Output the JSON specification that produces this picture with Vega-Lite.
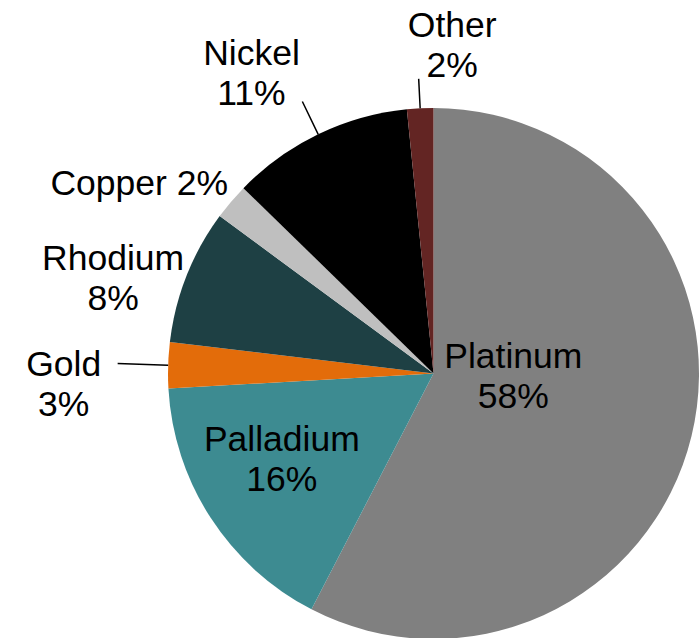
{
  "$schema": "https://vega.github.io/schema/vega-lite/v6.json",
  "width": 531,
  "height": 531,
  "autosize": {"type": "none"},
  "padding": {"left": 168, "top": 108, "right": 1, "bottom": 0},
  "background": "white",
  "config": {"view": {"stroke": null}},
  "data": {
    "values": [
      {"metal": "Platinum", "share": 57.6, "label": "Platinum\n58%", "order": 1},
      {"metal": "Palladium", "share": 16.5, "label": "Palladium\n16%", "order": 2},
      {"metal": "Gold", "share": 2.8, "label": "Gold\n3%", "order": 3},
      {"metal": "Rhodium", "share": 8.2, "label": "Rhodium\n8%", "order": 4},
      {"metal": "Copper", "share": 2.2, "label": "Copper 2%", "order": 5},
      {"metal": "Nickel", "share": 11.1, "label": "Nickel\n11%", "order": 6},
      {"metal": "Other", "share": 1.6, "label": "Other\n2%", "order": 7}
    ]
  },
  "encoding": {
    "theta": {"field": "share", "type": "quantitative", "stack": true},
    "order": {"field": "order", "type": "quantitative"}
  },
  "layer": [
    {
      "mark": {"type": "arc"},
      "encoding": {
        "color": {
          "field": "metal",
          "type": "nominal",
          "scale": {
            "domain": ["Platinum", "Palladium", "Gold", "Rhodium", "Copper", "Nickel", "Other"],
            "range": ["#808080", "#3D8B91", "#E36C0A", "#1E4044", "#BFBFBF", "#000000", "#632523"]
          },
          "legend": null
        }
      }
    },
    {
      "mark": {"type": "arc", "radius": 295, "radius2": 265.5, "padAngle": 3, "filled": false, "strokeWidth": 1.5},
      "encoding": {"stroke": {"condition": {"test": "datum.metal === 'Other'", "value": "#000000"}, "value": "transparent"}}
    },
    {
      "mark": {"type": "arc", "radius": 302, "radius2": 265.5, "padAngle": 3, "filled": false, "strokeWidth": 1.5},
      "encoding": {"stroke": {"condition": {"test": "datum.metal === 'Nickel'", "value": "#000000"}, "value": "transparent"}}
    },
    {
      "mark": {"type": "arc", "radius": 316, "radius2": 265.5, "padAngle": 3, "filled": false, "strokeWidth": 1.5},
      "encoding": {"stroke": {"condition": {"test": "datum.metal === 'Gold'", "value": "#000000"}, "value": "transparent"}}
    },
    {
      "mark": {"type": "text", "radius": 78, "dx": 4, "dy": -24, "font": "Liberation Sans", "fontSize": 35.5, "lineHeight": 40, "lineBreak": "\n", "align": "center", "baseline": "alphabetic", "color": "#000000"},
      "encoding": {"text": {"condition": {"test": "datum.metal === 'Platinum'", "field": "label", "type": "nominal"}, "value": ""}}
    },
    {
      "mark": {"type": "text", "radius": 170, "dx": -9, "dy": -15, "font": "Liberation Sans", "fontSize": 35.5, "lineHeight": 40, "lineBreak": "\n", "align": "center", "baseline": "alphabetic", "color": "#000000"},
      "encoding": {"text": {"condition": {"test": "datum.metal === 'Palladium'", "field": "label", "type": "nominal"}, "value": ""}}
    },
    {
      "mark": {"type": "text", "radius": 370, "dx": 0, "dy": 14, "font": "Liberation Sans", "fontSize": 35.5, "lineHeight": 40, "lineBreak": "\n", "align": "center", "baseline": "alphabetic", "color": "#000000"},
      "encoding": {"text": {"condition": {"test": "datum.metal === 'Gold'", "field": "label", "type": "nominal"}, "value": ""}}
    },
    {
      "mark": {"type": "text", "radius": 336, "dx": -8, "dy": 20, "font": "Liberation Sans", "fontSize": 35.5, "lineHeight": 40, "lineBreak": "\n", "align": "center", "baseline": "alphabetic", "color": "#000000"},
      "encoding": {"text": {"condition": {"test": "datum.metal === 'Rhodium'", "field": "label", "type": "nominal"}, "value": ""}}
    },
    {
      "mark": {"type": "text", "radius": 340, "dx": -35, "dy": 41, "font": "Liberation Sans", "fontSize": 35.5, "lineHeight": 40, "lineBreak": "\n", "align": "center", "baseline": "alphabetic", "color": "#000000"},
      "encoding": {"text": {"condition": {"test": "datum.metal === 'Copper'", "field": "label", "type": "nominal"}, "value": ""}}
    },
    {
      "mark": {"type": "text", "radius": 357, "dx": -27, "dy": 13, "font": "Liberation Sans", "fontSize": 35.5, "lineHeight": 40, "lineBreak": "\n", "align": "center", "baseline": "alphabetic", "color": "#000000"},
      "encoding": {"text": {"condition": {"test": "datum.metal === 'Nickel'", "field": "label", "type": "nominal"}, "value": ""}}
    },
    {
      "mark": {"type": "text", "radius": 335, "dx": 35.5, "dy": -2, "font": "Liberation Sans", "fontSize": 35.5, "lineHeight": 40, "lineBreak": "\n", "align": "center", "baseline": "alphabetic", "color": "#000000"},
      "encoding": {"text": {"condition": {"test": "datum.metal === 'Other'", "field": "label", "type": "nominal"}, "value": ""}}
    }
  ]
}
